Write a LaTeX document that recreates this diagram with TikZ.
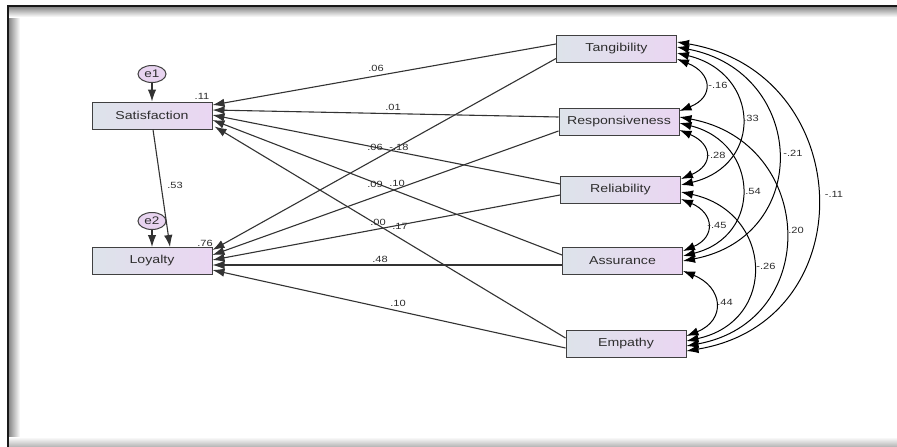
\documentclass[tikz,border=0pt]{standalone}
\usepackage{fontspec}
\setmainfont[FakeStretch=1.23]{Liberation Sans}
\usetikzlibrary{arrows.meta,calc,shapes.geometric}
\definecolor{boxL}{HTML}{DDE3EA}
\definecolor{boxR}{HTML}{EAD6F2}
\definecolor{errfill}{HTML}{E8D4F0}
\definecolor{ink}{HTML}{2E2E2E}
\tikzset{
  var/.style={draw=black!75, line width=1pt, left color=boxL, right color=boxR,
    minimum width=120pt, minimum height=27pt, inner sep=0pt, text=ink,
    font=\fontsize{11.5}{13}\selectfont},
  err/.style={draw=black!75, line width=1pt, fill=errfill, ellipse, minimum width=28pt,
    minimum height=17pt, inner sep=0pt, text=ink, font=\fontsize{11}{12}\selectfont},
  lbl/.style={text=ink, inner sep=0pt, font=\fontsize{9}{10}\selectfont},
  tip/.tip={Latex[length=12pt,width=8.5pt]},
  path/.style={draw=black!80, line width=1.1pt, -tip},
  cov/.style={draw=black, line width=1pt, tip-tip},
}
\begin{document}
\begin{tikzpicture}[x=1pt,y=-1pt]
\useasboundingbox (0,0) rectangle (897,447);
\fill[white] (0,0) rectangle (897,447);
% frame with inner shadow
\shade[left color=black!50, right color=white] (8,6) rectangle (20,447);
\shade[top color=black!50, bottom color=white] (8,6) rectangle (897,17);
\shade[top color=white, bottom color=black!30] (8,437) rectangle (897,447);
\draw[line width=2.2pt, black!90] (8,447) -- (8,6) -- (897,6);

% nodes
\node[var] (S) at (152,115.5) {Satisfaction};
\node[var] (L) at (152,261) {Loyalty};
\node[var] (T) at (616.5,48.5) {Tangibility};
\node[var] (R) at (619,121.5) {Responsiveness};
\node[var] (Rl) at (620.5,190) {Reliability};
\node[var] (A) at (622.5,261) {Assurance};
\node[var] (E) at (626,344) {Empathy};
\node[err] (e1) at (152,74) {e1};
\node[err] (e2) at (152,221) {e2};

% error and structural paths on the left
\draw[path] (e1) -- (S);
\draw[path] (e2) -- (L);
\draw[path] ($(S.south)+(1,0)$) -- ($(L.north)+(18,0)$);

% paths to Satisfaction
\draw[path] ($(T.west)+(0,-4.5)$) -- ($(S.east)+(0,-10.5)$);
\draw[path] ($(R.west)+(0,-4.5)$) -- ($(S.east)+(0,-5.5)$);
\draw[path] ($(Rl.west)+(0,-6)$) -- ($(S.east)+(0,-0.5)$);
\draw[path] ($(A.west)+(0,-6)$) -- ($(S.east)+(0,4.5)$);
\draw[path] ($(E.west)+(0,-6)$) -- ($(S.east)+(2,11)$);
% paths to Loyalty
\draw[path] ($(T.west)+(0,10)$) -- ($(L.east)+(0,-11)$);
\draw[path] ($(R.west)+(0,9.5)$) -- ($(L.east)+(0,-6)$);
\draw[path] ($(Rl.west)+(0,5)$) -- ($(L.east)+(0,-1)$);
\draw[path] ($(A.west)+(0,4)$) -- ($(L.east)+(0,4)$);
\draw[path] ($(E.west)+(0,4)$) -- ($(L.east)+(0,9)$);

% covariances
\draw[cov] ($(T.east)+(0,10.5)$) .. controls +(35,14) and +(35,-14) .. ($(R.east)+(0,-10.5)$);
\draw[cov] ($(R.east)+(0,8.5)$) .. controls +(33,14) and +(33,-14) .. ($(Rl.east)+(0,-11)$);
\draw[cov] ($(Rl.east)+(0,9)$) .. controls +(33,14) and +(33,-14) .. ($(A.east)+(0,-10)$);
\draw[cov] ($(A.east)+(0,10)$) .. controls +(40,16) and +(40,-16) .. ($(E.east)+(0,-8)$);
\draw[cov] ($(T.east)+(0,4.5)$) .. controls +(83,20) and +(83,-20) .. ($(Rl.east)+(0,-5)$);
\draw[cov] ($(R.east)+(0,1.5)$) .. controls +(80,20) and +(80,-20) .. ($(A.east)+(0,-5)$);
\draw[cov] ($(Rl.east)+(0,2)$) .. controls +(92,20) and +(92,-20) .. ($(E.east)+(0,-3)$);
\draw[cov] ($(T.east)+(0,-1.5)$) .. controls +(130,25) and +(130,-25) .. ($(A.east)+(0,0)$);
\draw[cov] ($(R.east)+(0,-4.5)$) .. controls +(136,25) and +(136,-25) .. ($(E.east)+(0,2)$);
\draw[cov] ($(T.east)+(0,-6.5)$) .. controls +(180,30) and +(180,-30) .. ($(E.east)+(0,7)$);

% labels
\node[lbl] (r1) at (202,96) {.11};
\node[lbl] (r2) at (205,243) {.76};
\node[lbl] (p0) at (175,185) {.53};
\node[lbl] (p1) at (376,68) {.06};
\node[lbl] (p2) at (393,107) {.01};
\node[lbl] (p3) at (375,147) {.06};
\node[lbl] (p4) at (399,147) {-.18};
\node[lbl] (p5) at (375,184) {.09};
\node[lbl] (p6) at (397,183) {.10};
\node[lbl] (p7) at (378,222) {.00};
\node[lbl] (p8) at (400,226) {.17};
\node[lbl] (p9) at (380,259) {.48};
\node[lbl] (p10) at (398,303) {.10};
\node[lbl] (c1) at (718,85) {-.16};
\node[lbl] (c2) at (716,155) {-.28};
\node[lbl] (c3) at (717,225) {-.45};
\node[lbl] (c4) at (725,302) {.44};
\node[lbl] (c5) at (751,118) {.33};
\node[lbl] (c6) at (753,191) {.54};
\node[lbl] (c7) at (766,266) {-.26};
\node[lbl] (c8) at (793,153) {-.21};
\node[lbl] (c9) at (796,230) {.20};
\node[lbl] (c10) at (834,194) {-.11};
\end{tikzpicture}
\end{document}
